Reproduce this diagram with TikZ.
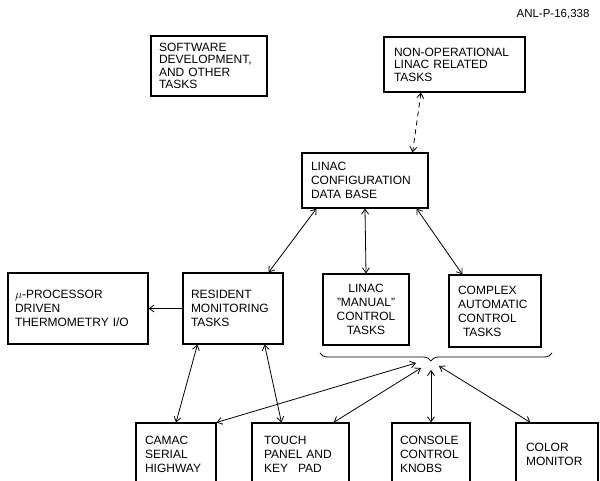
\documentclass[tikz,border=0pt]{standalone}
\usepackage{fontspec}
\setmainfont{Liberation Sans}
\usetikzlibrary{arrows.meta,decorations.pathreplacing}
\hyphenpenalty=10000

\begin{document}
\begin{tikzpicture}[x=1pt, y=-1pt,
       >={Straight Barb[length=5pt,width=7pt]},
       box/.style={draw, line width=1.1pt, inner sep=0pt, align=left, font=\fontsize{12}{14}\selectfont},
       link/.style={<->, line width=0.8pt}]
       \useasboundingbox (0,0) rectangle (600,481);
       \node [anchor=east, font=\fontsize{11.5}{13}\selectfont] (tag) at (593,14) {ANL-P-16,338};

       \node [box, minimum width=116pt, minimum height=60pt, text width=100pt, font=\fontsize{12}{12.5}\selectfont] (soft) at (209,66) {SOFTWARE\\DEVELOPMENT,\\AND OTHER\\TASKS};
       \node [box, minimum width=141pt, minimum height=55pt, text width=121pt, font=\fontsize{12}{12.5}\selectfont] (nonop) at (454.5,64.5) {NON-OPERATIONAL\\LINAC RELATED\\TASKS};
       \node [box, minimum width=126pt, minimum height=55pt, text width=108pt] (config) at (365,180.5) {LINAC\\CONFIGURATION\\DATA BASE};

       \node [box, minimum width=140pt, minimum height=71pt, text width=126pt] (mup) at (78,308.5) {$\mu$-PROCESSOR\\DRIVEN\\THERMOMETRY I/O};
       \node [box, minimum width=100pt, minimum height=71pt, text width=84pt] (res) at (233,308.5) {RESIDENT\\MONITORING\\TASKS};
       \node [box, minimum width=86pt, minimum height=71pt, text width=70pt, align=center] (manual) at (366,309.5) {LINAC\\"MANUAL"\\CONTROL\\TASKS};
       \node [box, minimum width=92pt, minimum height=72pt, text width=74pt] (complex) at (495,311) {COMPLEX\\AUTOMATIC\\CONTROL\\\hspace*{5pt}TASKS};

       \node [box, minimum width=80pt, minimum height=62pt, text width=62pt] (camac) at (176,454) {CAMAC\\SERIAL\\HIGHWAY};
       \node [box, minimum width=97pt, minimum height=62pt, text width=73pt] (touch) at (300.5,454) {TOUCH\\PANEL AND\\KEY\hspace{10pt}PAD};
       \node [box, minimum width=78pt, minimum height=62pt, text width=62pt] (console) at (431,454) {CONSOLE\\CONTROL\\KNOBS};
       \node [box, minimum width=82pt, minimum height=62pt, text width=62pt] (color) at (557,454) {COLOR\\MONITOR};

       \draw [line width=0.8pt, decorate, decoration={brace, mirror, amplitude=8pt, aspect=0.478}] (320,353) -- (552,353);
       \coordinate (fan1) at (416,363);
       \coordinate (fan2) at (421,368);
       \coordinate (fan3) at (431,370);
       \coordinate (fan4) at (439,366);

       \draw [link, dash pattern=on 5pt off 4pt] ([xshift=-33.5pt]nonop.south) -- ([xshift=-16pt]config.north east);
       \draw [link] ([xshift=15pt]config.south west) -- ([xshift=-15pt]res.north east);
       \draw [link] (config.south) -- (manual.north);
       \draw [link] ([xshift=-12pt]config.south east) -- ([xshift=14pt]complex.north west);
       \draw [->, line width=0.8pt] (res.west) -- (mup.east);
       \draw [link] ([xshift=15pt]res.south west) -- (camac.north);
       \draw [link] ([xshift=-19pt]res.south east) -- ([xshift=30pt]touch.north west);
       \draw [link] (fan1) -- (camac.north east);
       \draw [link] (fan2) -- ([xshift=-16pt]touch.north east);
       \draw [link] (fan3) -- (console.north);
       \draw [link] (fan4) -- ([xshift=15pt]color.north west);
\end{tikzpicture}
\end{document}
